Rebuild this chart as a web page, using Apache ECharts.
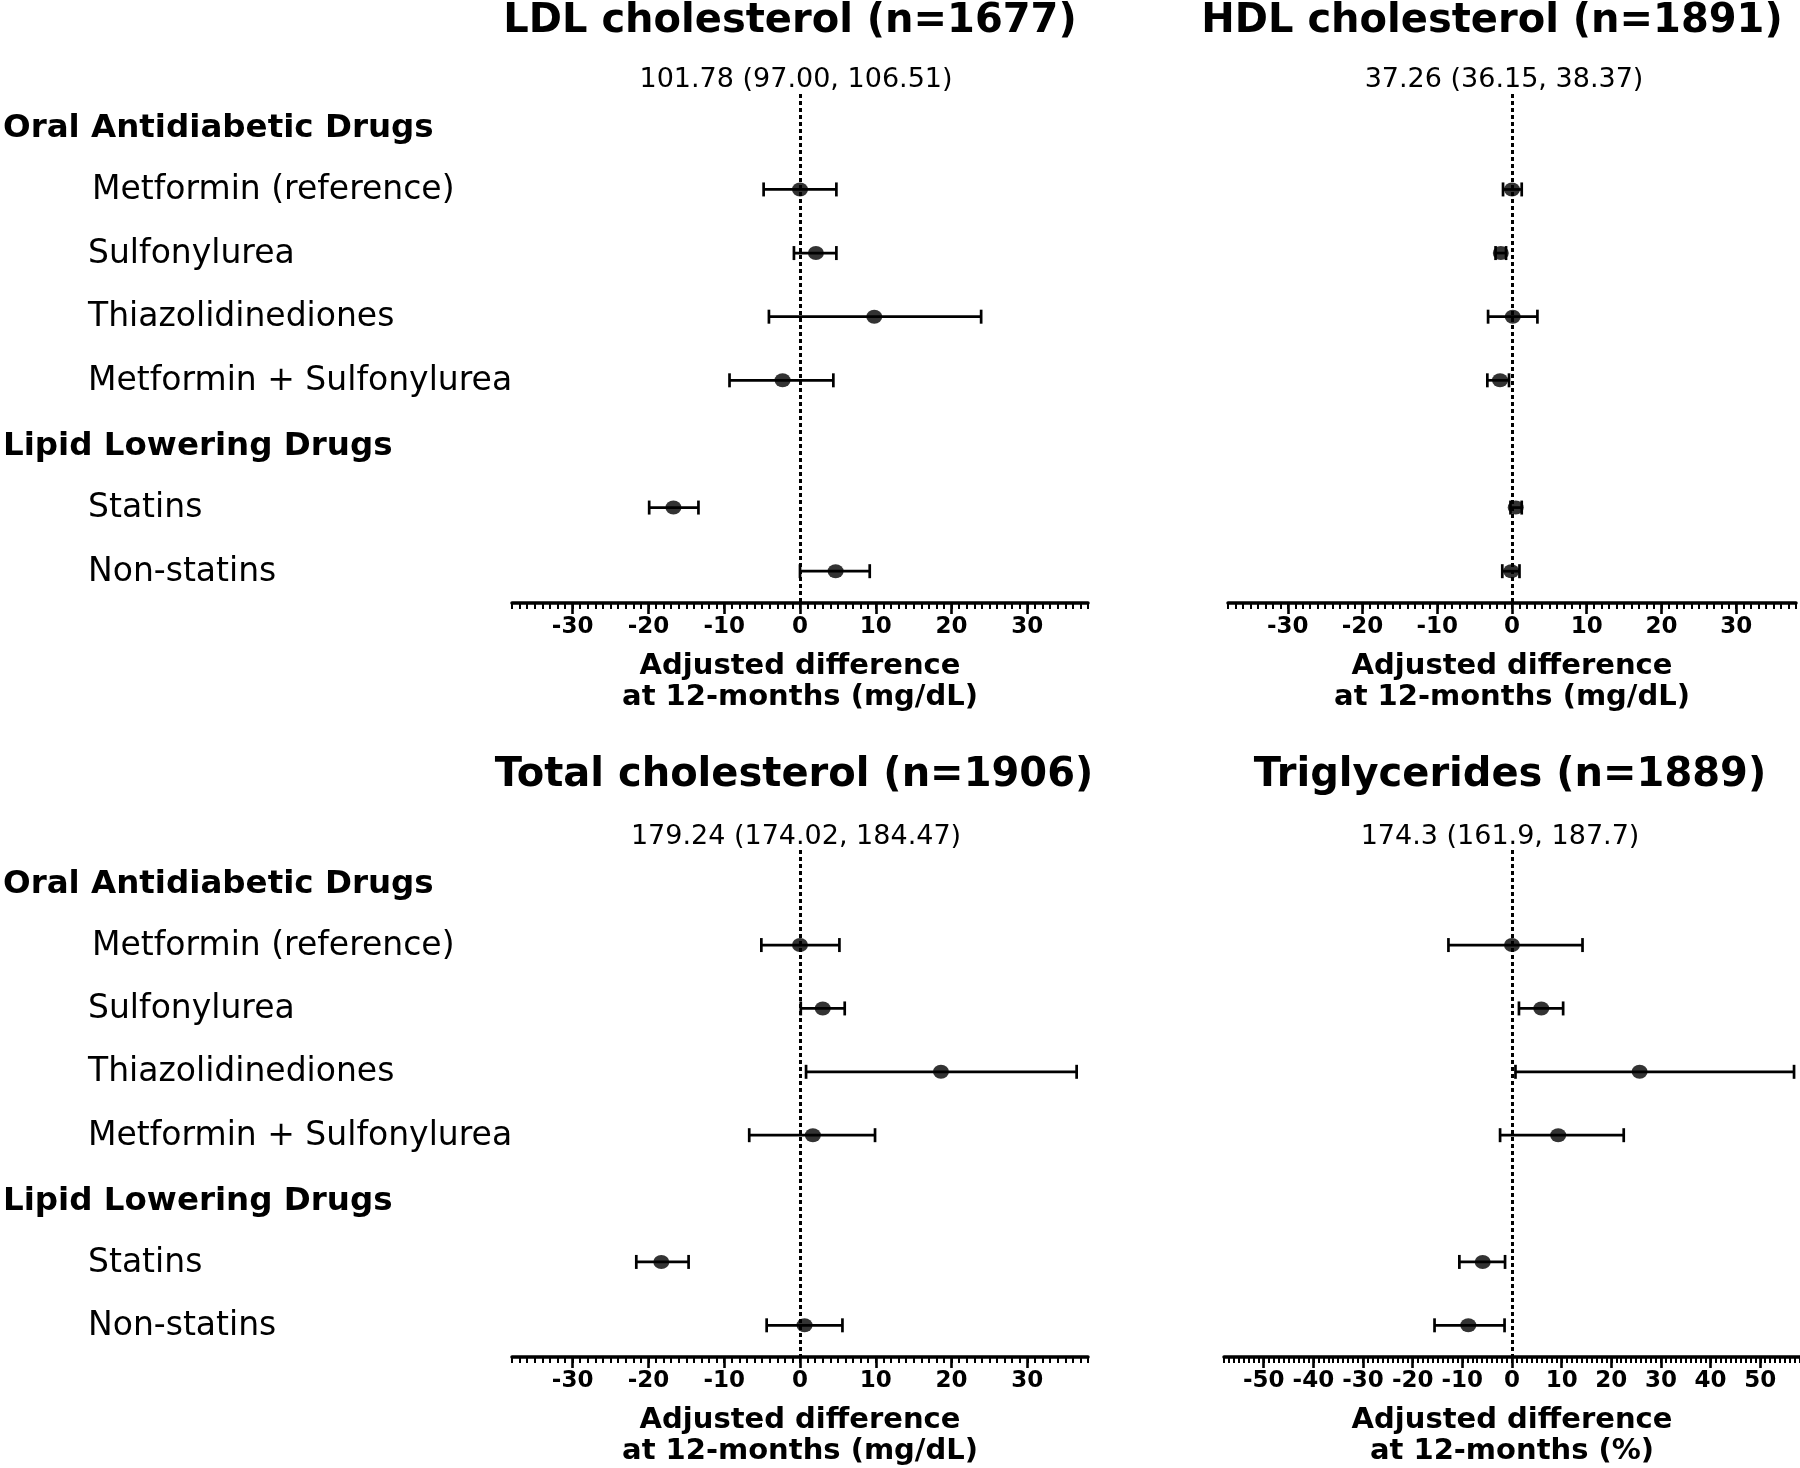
<!DOCTYPE html>
<html><head><meta charset="utf-8">
<script src="https://cdn.jsdelivr.net/npm/echarts@6/dist/echarts.min.js"></script>
<style>html,body{margin:0;padding:0;background:#fff}#c{width:1800px;height:1468px}</style>
</head><body><div id="c"></div>
<script>
// ---------- data ----------
const rows = ['Oral Antidiabetic Drugs','Metformin (reference)','Sulfonylurea','Thiazolidinediones','Metformin + Sulfonylurea','Lipid Lowering Drugs','Statins','Non-statins'];
const headerRows = ['Oral Antidiabetic Drugs','Lipid Lowering Drugs'];
const drugs = ['Metformin (reference)','Sulfonylurea','Thiazolidinediones','Metformin + Sulfonylurea','Statins','Non-statins'];

const panelTitles = ['LDL cholesterol (n=1677)','HDL cholesterol (n=1891)','Total cholesterol (n=1906)','Triglycerides (n=1889)'];
const panelSubtitles = ['101.78 (97.00, 106.51)','37.26 (36.15, 38.37)','179.24 (174.02, 184.47)','174.3 (161.9, 187.7)'];
const axisNameMg = 'Adjusted difference\nat 12-months (mg/dL)';
const axisNamePct = 'Adjusted difference\nat 12-months (%)';

const ldlEst  = [0, 2.1, 9.8, -2.3, -16.7, 4.7];
const ldlLow  = [-4.8, -0.8, -4.1, -9.3, -19.9, 0];
const ldlHigh = [4.8, 4.8, 23.9, 4.4, -13.4, 9.2];

const hdlEst  = [0, -1.5, 0.1, -1.6, 0.5, -0.1];
const hdlLow  = [-1.2, -2.2, -3.2, -3.3, -0.2, -1.3];
const hdlHigh = [1.3, -0.8, 3.4, -0.4, 1.3, 1.0];

const tcEst  = [0, 3.0, 18.6, 1.7, -18.3, 0.6];
const tcLow  = [-5.1, 0.1, 0.8, -6.7, -21.6, -4.4];
const tcHigh = [5.2, 5.9, 36.5, 9.9, -14.7, 5.6];

const tgEst  = [0, 5.9, 25.7, 9.3, -5.9, -8.8];
const tgLow  = [-12.8, 1.4, 0.7, -2.4, -10.6, -15.6];
const tgHigh = [14.2, 10.3, 56.8, 22.5, -1.4, -1.5];

const mgTickLabels  = [-30, -20, -10, 0, 10, 20, 30];
const pctTickLabels = [-50, -40, -30, -20, -10, 0, 10, 20, 30, 40, 50];
const mgRange  = [-38, 38];
const pctRange = [-58, 58];

// ---------- layout ----------
const FONT = 'DejaVu Sans';
const panels = [
  {est: ldlEst, low: ldlLow, high: ldlHigh, ticks: mgTickLabels, range: mgRange, name: axisNameMg, labels: true,
   grid: {left: 503, top: 94, width: 585, height: 509}, title: [790, 22], sub: [796, 80]},
  {est: hdlEst, low: hdlLow, high: hdlHigh, ticks: mgTickLabels, range: mgRange, name: axisNameMg, labels: false,
   grid: {left: 1228, top: 94, width: 568, height: 509}, title: [1492, 22], sub: [1504, 80]},
  {est: tcEst, low: tcLow, high: tcHigh, ticks: mgTickLabels, range: mgRange, name: axisNameMg, labels: true,
   grid: {left: 503, top: 850, width: 585, height: 511}, title: [794, 776], sub: [796, 837]},
  {est: tgEst, low: tgLow, high: tgHigh, ticks: pctTickLabels, range: pctRange, name: axisNamePct, labels: false,
   grid: {left: 1224, top: 850, width: 576, height: 511}, title: [1510, 776], sub: [1500, 837]}
];

function renderBar(params, api) {
  const y = api.value(1);
  const pL = api.coord([api.value(2), y]);
  const pH = api.coord([api.value(3), y]);
  const h = 7;
  const style = {stroke: '#000', lineWidth: 2.7, fill: null};
  return {type: 'group', children: [
    {type: 'line', shape: {x1: pL[0], y1: pL[1], x2: pH[0], y2: pH[1]}, style: style},
    {type: 'line', shape: {x1: pL[0], y1: pL[1] - h, x2: pL[0], y2: pL[1] + h}, style: style},
    {type: 'line', shape: {x1: pH[0], y1: pH[1] - h, x2: pH[0], y2: pH[1] + h}, style: style}
  ]};
}

const grid = [], xAxis = [], yAxis = [], series = [], graphic = [];
panels.forEach((p, i) => {
  grid.push(Object.assign({containLabel: false}, p.grid));
  xAxis.push({
    type: 'value', gridIndex: i, min: p.range[0], max: p.range[1], position: 'bottom',
    name: p.name, nameLocation: 'middle', nameGap: 48,
    nameTextStyle: {fontFamily: FONT, fontWeight: 'bold', fontSize: 29, lineHeight: 31, color: '#000'},
    axisLine: {show: true, onZero: false, lineStyle: {color: '#000', width: 3.5}},
    axisTick: {show: true, customValues: p.ticks, length: 11, lineStyle: {color: '#000', width: 2.6}},
    axisLabel: {show: true, customValues: p.ticks, margin: 13, fontFamily: FONT, fontWeight: 'bold', fontSize: 23, color: '#000'},
    splitLine: {show: false}
  });
  xAxis.push({
    type: 'value', gridIndex: i, min: p.range[0], max: p.range[1], interval: 1, position: 'bottom',
    axisLine: {show: false, onZero: false},
    axisTick: {show: true, length: 6, lineStyle: {color: '#000', width: 2}},
    axisLabel: {show: false}, splitLine: {show: false}
  });
  yAxis.push({
    type: 'category', gridIndex: i, data: rows, inverse: true, boundaryGap: true,
    axisLine: {show: false}, axisTick: {show: false}, splitLine: {show: false},
    axisLabel: {
      show: p.labels, interval: 0, align: 'left', margin: p.grid.left + 6,
      formatter: v => headerRows.includes(v) ? '{h|' + v + '}' :
        (v === drugs[0] ? '{r|' + v + '}' : '{i|' + v + '}'),
      rich: {
        h: {fontFamily: FONT, fontWeight: 'bold', fontSize: 32.5, color: '#000', padding: [5, 0, 0, 0]},
        r: {fontFamily: FONT, fontSize: 33, color: '#000', padding: [2, 0, 0, 89]},
        i: {fontFamily: FONT, fontSize: 33, color: '#000', padding: [2, 0, 0, 85]}
      }
    }
  });
  series.push({
    type: 'custom', xAxisIndex: 2 * i, yAxisIndex: i, renderItem: renderBar,
    dimensions: ['est', {name: 'row', type: 'ordinal'}, 'low', 'high'],
    encode: {x: 0, y: 1},
    data: drugs.map((d, k) => [p.est[k], d, p.low[k], p.high[k]]),
    z: 3,
    markLine: {silent: true, symbol: ['none', 'none'], label: {show: false},
      lineStyle: {color: '#000', width: 3, type: [4, 3]}, data: [{xAxis: 0}]}
  });
  series.push({
    type: 'scatter', xAxisIndex: 2 * i, yAxisIndex: i, symbol: 'circle', symbolSize: [16, 14],
    itemStyle: {color: '#000'}, z: 5,
    data: drugs.map((d, k) => [p.est[k], d])
  });
  graphic.push({type: 'text', x: p.title[0], y: p.title[1],
    style: {text: panelTitles[i], fontFamily: FONT, fontWeight: 'bold', fontSize: 40, fill: '#000',
      align: 'center', verticalAlign: 'middle', textAlign: 'center', textVerticalAlign: 'middle'}});
  graphic.push({type: 'text', x: p.sub[0], y: p.sub[1],
    style: {text: panelSubtitles[i], fontFamily: FONT, fontSize: 27, fill: '#000',
      align: 'center', verticalAlign: 'middle', textAlign: 'center', textVerticalAlign: 'middle'}});
});

const chart = echarts.init(document.getElementById('c'));
chart.setOption({
  backgroundColor: '#fff', animation: false,
  grid, xAxis, yAxis, series, graphic
});
</script></body></html>
